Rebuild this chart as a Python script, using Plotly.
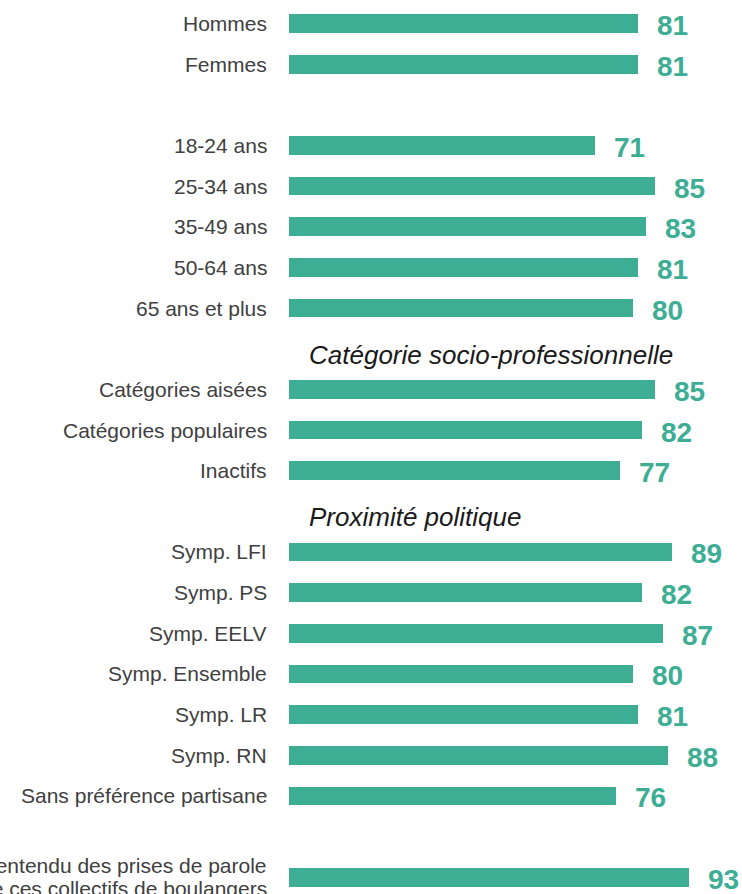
import plotly.graph_objects as go

# ---- data ----
sexe_labels = ["Hommes", "Femmes"]
sexe_values = [81, 81]

age_labels = ["18-24 ans", "25-34 ans", "35-49 ans", "50-64 ans", "65 ans et plus"]
age_values = [71, 85, 83, 81, 80]

csp_title = "Catégorie socio-professionnelle"
csp_labels = ["Catégories aisées", "Catégories populaires", "Inactifs"]
csp_values = [85, 82, 77]

politique_title = "Proximité politique"
politique_labels = ["Symp. LFI", "Symp. PS", "Symp. EELV", "Symp. Ensemble",
                    "Symp. LR", "Symp. RN", "Sans préférence partisane"]
politique_values = [89, 82, 87, 80, 81, 88, 76]

entendu_labels = ["Ont entendu des prises de parole<br>de ces collectifs de boulangers"]
entendu_values = [93]

groups = [
    (None, sexe_labels, sexe_values),
    ("", age_labels, age_values),
    (csp_title, csp_labels, csp_values),
    (politique_title, politique_labels, politique_values),
    ("", entendu_labels, entendu_values),
]

# ---- layout constants ----
W, H = 742, 894
PX_PER_UNIT = 4.31
X_ZERO_PX = 288.5
SLOT_PX = 40.65
FIRST_CENTER_PX = 23.5
TEAL = "#3dae94"
LABEL_COLOR = "#404040"
TITLE_COLOR = "#1a1a1a"
FONT = "Liberation Sans, Arial, Helvetica, sans-serif"

ys, vals, labs = [], [], []
headers = []
slot = 0
for title, labels, values in groups:
    if title is not None:
        headers.append((slot, title))
        slot += 1
    for lab, v in zip(labels, values):
        ys.append(slot)
        vals.append(v)
        labs.append(lab)
        slot += 1

fig = go.Figure()
fig.add_trace(go.Bar(
    x=vals, y=ys, orientation="h",
    marker=dict(color=TEAL, line=dict(width=0)),
    width=0.46, hoverinfo="skip",
))

annotations = []
for y, v, lab in zip(ys, vals, labs):
    annotations.append(dict(
        x=v, y=y, xref="x", yref="y", text=f"<b>{v}</b>", showarrow=False,
        xanchor="left", yanchor="middle", xshift=17, yshift=-2,
        font=dict(family=FONT, size=28, color=TEAL),
    ))
    lines = lab.split("<br>")
    n = len(lines)
    for i, line in enumerate(lines):
        annotations.append(dict(
            x=0, y=y, xref="x", yref="y", text=line, showarrow=False,
            xanchor="right", yanchor="middle", xshift=-20,
            yshift=(n - 1) / 2 * 23 - i * 23,
            font=dict(family=FONT, size=21, color=LABEL_COLOR),
        ))

for s, title in headers:
    if title:
        annotations.append(dict(
            x=0, y=s, xref="x", yref="y", text=f"<i>{title}</i>", showarrow=False,
            xanchor="left", yanchor="middle", xshift=18, yshift=-6,
            font=dict(family=FONT, size=26, color=TITLE_COLOR),
        ))

fig.update_layout(
    width=W, height=H,
    margin=dict(l=0, r=0, t=0, b=0),
    paper_bgcolor="white", plot_bgcolor="white",
    showlegend=False,
    bargap=0,
    annotations=annotations,
    xaxis=dict(range=[-X_ZERO_PX / PX_PER_UNIT, (W - X_ZERO_PX) / PX_PER_UNIT],
               visible=False, fixedrange=True),
    yaxis=dict(range=[(H - FIRST_CENTER_PX) / SLOT_PX, -FIRST_CENTER_PX / SLOT_PX],
               visible=False, fixedrange=True),
)

fig.write_html(
    "out.html",
    config={"displayModeBar": False},
    post_script="document.body.style.margin='0';document.body.style.overflow='hidden';",
)
